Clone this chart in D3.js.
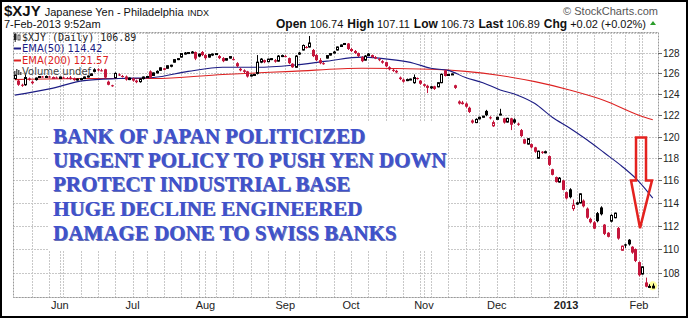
<html>
<script src='https://d3js.org/d3.v7.min.js'></script>
<style>
    body { margin: 0; background: #fff; }
</style>
<body>
<svg width=688 height=318 id="chart" font-family="'Liberation Sans', Arial, sans-serif"></svg>
<script>
// ---- data ----
var holidays = ["2012-05-28","2012-07-04","2012-09-03","2012-10-29","2012-10-30","2012-11-22","2012-12-25","2013-01-01","2013-01-21"];

var opens = [125.5,125.3,124.9,124.9,125.5,125.2,125.4,125.6,125.7,125.65,
125.7,125.6,125.6,125.5,125.6,125.55,125.6,125.5,125.4,125.45,
125.5,125.65,125.8,126.2,126.4,126.3,126.4,125.2,124.85,125.6,
125.9,125.75,125.7,125.4,125.5,125.3,125.2,125.5,125.65,126.2,
125.8,126.05,126.3,126.5,126.5,126.7,127.1,127.35,127.6,127.95,
128.0,128.0,128.1,127.7,128.1,127.8,127.6,127.85,127.85,127.7,
127.5,127.3,127.5,127.4,127.0,126.45,126.3,126.2,125.75,125.85,
126.0,127.1,127.3,127.15,127.4,127.3,127.2,127.7,127.7,127.5,
126.95,126.6,127.9,128.3,128.6,128.6,128.3,127.8,127.3,127.0,
127.5,127.8,128.0,128.3,128.65,128.85,128.95,128.4,128.2,128.0,
127.6,127.3,127.75,127.8,127.6,127.4,127.2,127.1,126.6,126.35,
126.25,125.6,125.4,125.3,125.4,125.1,125.55,125.3,124.95,124.8,
124.6,124.75,124.7,125.1,126.3,125.8,125.9,124.85,123.3,123.2,
123.1,122.7,121.5,121.3,121.65,121.8,122.4,121.8,121.0,121.6,
122.1,121.7,121.35,121.7,121.6,121.2,120.6,119.75,119.3,119.3,
119.0,118.0,118.6,118.5,118.2,117.0,116.3,115.85,116.0,114.95,
115.2,113.5,113.9,114.0,114.2,113.5,112.6,112.3,113.1,113.6,
112.1,111.4,112.4,112.7,111.8,109.9,110.4,110.8,110.2,110.0,
108.9,107.9,107.2,106.85,106.74];

var highs = [125.9,125.4,125.0,125.9,125.6,125.3,125.6,125.75,125.75,125.8,
125.75,125.7,125.7,125.7,125.7,125.65,125.75,125.6,125.5,125.55,
125.7,125.8,126.0,126.5,126.5,126.45,126.45,125.3,124.9,126.1,
126.0,125.85,125.8,125.6,125.6,125.4,125.5,125.7,125.75,126.3,
126.1,126.3,126.6,126.55,126.8,126.85,127.4,127.5,128.0,128.1,
128.1,128.2,128.15,127.95,128.2,127.9,127.9,127.95,128.0,127.8,
127.6,127.5,127.7,127.6,127.1,126.55,126.4,126.25,125.9,125.95,
127.8,127.5,127.35,127.45,127.5,127.4,127.8,127.85,127.8,127.55,
127.0,127.8,128.1,128.85,128.7,129.7,128.4,127.9,127.5,127.1,
127.8,128.0,128.2,128.65,128.85,129.0,129.0,128.5,128.3,128.05,
127.7,127.8,128.0,127.85,127.7,127.5,127.3,127.15,126.7,126.45,
126.35,125.7,125.5,125.5,125.5,125.9,125.6,125.35,125.0,124.9,
124.8,124.8,125.15,126.0,126.35,125.95,126.0,124.9,123.4,123.35,
123.2,122.8,121.6,121.7,121.85,121.95,122.5,121.9,121.5,121.85,
122.6,121.75,121.75,121.75,121.7,121.3,120.7,119.8,119.85,119.35,
119.05,118.7,118.65,118.7,118.25,117.05,116.35,116.3,116.05,115.0,
115.3,114.3,114.1,114.85,114.3,113.6,112.7,112.4,113.2,113.7,
112.15,111.45,113.0,113.15,111.9,110.3,110.45,110.85,110.25,110.05,
108.95,108.55,107.6,107.05,107.11];

var lows = [125.4,124.8,124.7,124.8,125.3,124.95,125.3,125.55,125.6,125.6,
125.6,125.5,125.5,125.45,125.5,125.45,125.4,125.3,125.3,125.35,
125.45,125.6,125.75,126.1,126.2,126.2,125.5,124.85,124.7,125.5,
125.75,125.6,125.3,125.35,125.2,125.05,125.1,125.4,125.55,125.5,
125.75,126.0,126.25,126.3,126.45,126.6,127.05,127.3,127.55,127.85,
127.9,127.95,127.3,127.6,127.7,127.35,127.55,127.7,127.8,127.4,
127.1,127.25,127.45,127.3,126.6,126.2,126.0,125.6,125.7,125.8,
125.9,127.0,127.0,127.1,127.3,127.05,127.15,127.6,127.6,126.9,
126.55,126.55,127.8,128.25,128.45,128.55,127.6,127.2,126.9,126.85,
127.45,127.75,127.95,128.25,128.6,128.8,128.3,128.1,127.9,127.6,
127.1,127.25,127.7,127.5,127.4,127.2,126.95,126.6,126.3,126.15,
126.0,125.35,125.1,125.25,125.35,125.0,125.4,124.9,124.7,124.1,
124.5,124.4,124.65,125.05,125.7,125.75,125.85,124.5,123.0,123.0,
122.7,122.2,121.2,121.25,121.6,121.75,121.9,121.6,120.9,121.55,
122.0,121.2,121.3,120.6,121.2,121.0,119.95,119.3,119.25,118.9,
118.5,117.95,118.4,118.45,117.3,116.45,115.8,115.8,115.1,114.3,
114.4,113.3,113.8,113.95,113.6,112.6,112.2,111.7,112.3,112.9,
111.2,111.0,112.3,112.65,110.8,109.85,110.1,110.3,109.6,108.9,
107.7,107.85,106.8,106.75,106.73];

var closes = [125.8,124.9,124.85,125.6,125.4,125.05,125.55,125.7,125.65,125.7,
125.65,125.6,125.55,125.65,125.55,125.5,125.45,125.35,125.45,125.5,
125.65,125.75,125.95,126.35,126.3,126.25,125.6,124.9,124.8,126.0,
125.85,125.7,125.4,125.55,125.3,125.15,125.45,125.65,125.7,125.6,
126.05,126.2,126.55,126.35,126.75,126.8,127.35,127.45,127.95,128.0,
128.05,128.1,127.45,127.9,127.8,127.5,127.85,127.9,127.95,127.5,
127.2,127.45,127.65,127.35,126.7,126.3,126.15,125.7,125.85,125.9,
127.1,127.4,127.1,127.4,127.45,127.15,127.7,127.75,127.65,127.0,
126.6,127.7,128.0,128.75,128.55,129.0,127.7,127.3,127.0,126.95,
127.75,127.95,128.1,128.6,128.8,128.95,128.4,128.2,128.0,127.7,
127.2,127.7,127.9,127.6,127.45,127.3,127.05,126.7,126.4,126.25,
126.1,125.45,125.2,125.4,125.45,125.6,125.5,125.0,124.8,124.6,
124.7,124.5,125.1,125.9,125.75,125.9,125.95,124.6,123.1,123.05,
122.8,122.3,121.3,121.6,121.8,121.9,122.0,121.7,121.3,121.8,
122.1,121.3,121.7,121.1,121.3,121.1,120.05,119.35,119.8,119.0,
118.6,118.65,118.5,118.6,117.4,116.5,115.85,116.2,115.15,114.4,
114.5,113.8,114.0,114.8,113.7,112.7,112.3,111.75,112.4,113.0,
111.3,111.05,112.9,113.1,110.9,110.25,110.3,110.4,109.7,109.0,
107.8,108.5,106.85,106.87,106.89];

// moving averages, sampled by trading-day index
var emaIdx    = [0,10,20,30,40,50,60,70,80,90,100,105,110,115,120,125,130,135,140,145,150,155,160,165,170,175,180,184];
var ema50     = [123.9,124.5,125.3,125.5,125.6,126.2,126.6,126.6,126.8,127.2,127.6,127.5,127.3,127.0,126.5,126.3,125.6,125.1,124.4,123.9,123.1,121.8,120.8,119.7,118.5,117.3,115.9,114.42];
var ema200Idx = [0,20,40,60,80,100,120,130,140,150,160,170,180,184];
var ema200    = [125.4,125.5,125.5,125.9,126.2,126.5,126.4,126.2,125.8,125.2,124.4,123.4,122.0,121.57];

var yTicks = [108,110,112,114,116,118,120,122,124,126,128];
var yGrid  = [106,108,110,112,114,116,118,120,122,124,126,128,130];

var noteLines = ["BANK OF JAPAN POLITICIZED","URGENT POLICY TO PUSH YEN DOWN","PROTECT INDUSTRIAL BASE","HUGE DECLINE ENGINEERED","DAMAGE DONE TO SWISS BANKS"];

function draw() {
    var fmt = d3.timeFormat("%Y-%m-%d");
    var days = d3.timeDay.range(new Date(2012,4,14), new Date(2013,1,8))
        .filter(function(d){ return d.getDay() % 6 !== 0 && holidays.indexOf(fmt(d)) < 0; });

    var data = days.map(function(d, i) {
        return { i: i, date: d, o: opens[i], h: highs[i], l: lows[i], c: closes[i] };
    });

    var svg = d3.select("svg");
    var pl = 13, pr = 658, pt = 32, pb = 297;

    var x = d3.scaleLinear().domain([-0.5, days.length + 0.5]).range([pl, pr]);
    var y = d3.scaleLog().domain([106, 130.1]).range([pb, pt]);

    // outer frame
    svg.append("rect").attr("x",1).attr("y",1).attr("width",686).attr("height",316)
       .attr("fill","#fff").attr("stroke","#000").attr("stroke-width",2);

    // grid
    var grid = svg.append("g").attr("stroke","#c8c8c8").attr("stroke-width",1).attr("stroke-dasharray","2,1");
    var weekStarts = data.filter(function(d, i) {
        if (i === 0) return false;
        var p = days[i-1];
        return +d3.timeMonday.floor(d.date) !== +d3.timeMonday.floor(p) || d.date.getMonth() !== p.getMonth();
    });
    grid.selectAll(".vg").data(weekStarts).enter().append("line")
        .attr("x1", function(d){ return Math.round(x(d.i)) + 0.5; })
        .attr("x2", function(d){ return Math.round(x(d.i)) + 0.5; })
        .attr("y1", pt).attr("y2", pb);
    grid.selectAll(".hg").data(yGrid).enter().append("line")
        .attr("x1", pl).attr("x2", pr)
        .attr("y1", function(d){ return Math.round(y(d)) + 0.5; })
        .attr("y2", function(d){ return Math.round(y(d)) + 0.5; });

    // plot border
    svg.append("rect").attr("x", pl + 0.5).attr("y", pt + 0.5)
       .attr("width", pr - pl).attr("height", pb - pt)
       .attr("fill","none").attr("stroke","#999").attr("stroke-dasharray","2,1");

    // right axis
    var yAxis = svg.append("g");
    yAxis.selectAll("line").data(yTicks).enter().append("line")
        .attr("x1", pr).attr("x2", pr + 4)
        .attr("y1", function(d){ return Math.round(y(d)) + 0.5; })
        .attr("y2", function(d){ return Math.round(y(d)) + 0.5; })
        .attr("stroke","#666");
    yAxis.selectAll("text").data(yTicks).enter().append("text")
        .attr("x", pr + 5).attr("y", function(d){ return y(d) + 4; })
        .attr("font-size", 10).attr("fill","#222").text(function(d){ return d; });

    // month labels
    var monthStarts = data.filter(function(d, i){ return i > 0 && d.date.getMonth() !== days[i-1].getMonth(); });
    svg.selectAll(".ml").data(monthStarts).enter().append("text")
        .attr("x", function(d){ return x(d.i); }).attr("y", 309)
        .attr("text-anchor","middle").attr("font-size", 11)
        .attr("font-weight", function(d){ return d.date.getMonth() === 0 ? "bold" : "normal"; })
        .attr("fill","#222")
        .text(function(d){ return d.date.getMonth() === 0 ? d.date.getFullYear() : d3.timeFormat("%b")(d.date); });

    // white box behind the note
    svg.append("rect").attr("x",48).attr("y",122).attr("width",399).attr("height",128).attr("fill","#fff");

    // EMAs
    var line = d3.line().curve(d3.curveMonotoneX)
        .x(function(d){ return x(d[0]); }).y(function(d){ return y(d[1]); });
    svg.append("path").datum(ema200Idx.map(function(v, k){ return [v, ema200[k]]; }))
        .attr("d", line).attr("fill","none").attr("stroke","#dd2222").attr("stroke-width",1.1);
    svg.append("path").datum(emaIdx.map(function(v, k){ return [v, ema50[k]]; }))
        .attr("d", line).attr("fill","none").attr("stroke","#1c1c84").attr("stroke-width",1.1);

    // highlight on last bar
    var last = data[data.length - 1];
    svg.append("circle").attr("cx", x(last.i)).attr("cy", y((last.h + last.l) / 2))
       .attr("r", 4.5).attr("fill","#ffff99");

    // candles
    var red = "#c4163c";
    var candles = svg.append("g").selectAll("g").data(data).enter().append("g");
    candles.each(function(d, i) {
        var g = d3.select(this);
        var prev = i > 0 ? closes[i-1] : d.o;
        var col = d.c >= prev ? "#000" : red;
        var cx = Math.round(x(d.i));
        g.append("line").attr("x1", cx + 0.5).attr("x2", cx + 0.5)
            .attr("y1", y(d.h)).attr("y2", y(d.l)).attr("stroke", col);
        var yt = y(Math.max(d.o, d.c)), yb = y(Math.min(d.o, d.c));
        if (d.c < d.o) {
            g.append("rect").attr("x", cx - 1).attr("y", yt)
                .attr("width", 3).attr("height", Math.max(1, yb - yt)).attr("fill", col);
        } else {
            g.append("rect").attr("x", cx - 0.5).attr("y", yt)
                .attr("width", 2).attr("height", Math.max(1, yb - yt))
                .attr("fill","#fff").attr("stroke", col).attr("stroke-width", 1);
        }
    });

    // note text
    var note = svg.append("g").attr("font-family","'Liberation Serif', 'Times New Roman', serif")
        .attr("font-weight","bold").attr("font-size", 21);
    noteLines.forEach(function(t, k) {
        note.append("text").attr("x", 53.8).attr("y", 143.8 + k * 24.2).attr("fill","#25329a").attr("opacity",0.7).text(t);
        note.append("text").attr("x", 53).attr("y", 143 + k * 24.2).attr("fill","#3f52cc").text(t);
    });

    // red arrow (annotation)
    var ax = x(180.6), aTop = y(119.9), aNeck = y(116.0), aTip = y(111.8);
    svg.append("path")
       .attr("d", "M" + (ax-5) + "," + aTop + "L" + (ax+5) + "," + aTop + "L" + (ax+5) + "," + aNeck +
                  "L" + (ax+11) + "," + aNeck + "L" + (ax-1) + "," + aTip + "L" + (ax-10) + "," + aNeck +
                  "L" + (ax-5) + "," + aNeck + "Z")
       .attr("fill","none").attr("stroke","#e4221f").attr("stroke-width",2.5).attr("stroke-linejoin","miter");

    // legend
    var lg = svg.append("g").attr("font-family","'DejaVu Sans', Verdana, sans-serif").attr("font-size",10);
    lg.append("rect").attr("x",14).attr("y",34).attr("width",2.5).attr("height",6).attr("fill","#222");
    lg.append("line").attr("x1",15.2).attr("x2",15.2).attr("y1",33).attr("y2",42).attr("stroke","#222");
    lg.append("rect").attr("x",18).attr("y",35).attr("width",2).attr("height",5).attr("fill","none").attr("stroke","#222").attr("stroke-width",0.8);
    lg.append("text").attr("x",22).attr("y",41).attr("fill","#222")
        .attr("font-family","'DejaVu Sans Mono', monospace").attr("font-size",10).text("$XJY (Daily) 106.89");
    lg.append("line").attr("x1",14).attr("x2",21).attr("y1",48.5).attr("y2",48.5).attr("stroke","#1c1c84").attr("stroke-width",2);
    lg.append("text").attr("x",22).attr("y",52).attr("fill","#1c1c84").text("EMA(50) 114.42");
    lg.append("line").attr("x1",14).attr("x2",21).attr("y1",60.5).attr("y2",60.5).attr("stroke","#dd2222").attr("stroke-width",2);
    lg.append("text").attr("x",22).attr("y",63.5).attr("fill","#dd2222").text("EMA(200) 121.57");
    [[14,4],[16,6],[18,5],[20,3]].forEach(function(b){
        lg.append("rect").attr("x",b[0]).attr("y",75 - b[1]).attr("width",1.5).attr("height",b[1]).attr("fill","#555");
    });
    lg.append("text").attr("x",22).attr("y",75).attr("fill","#444").text("Volume undef");

    // header
    var hd = svg.append("g").attr("fill","#111");
    var t1 = hd.append("text").attr("x",4).attr("y",16);
    t1.append("tspan").attr("font-size",15).attr("font-weight","bold").text("$XJY");
    t1.append("tspan").attr("font-size",11).attr("dx",4).text("Japanese Yen - Philadelphia");
    t1.append("tspan").attr("font-size",9).attr("dx",4).text("INDX");
    hd.append("text").attr("x",4).attr("y",28).attr("font-size",11).text("7-Feb-2013 9:52am");
    var t2 = hd.append("text").attr("x",646).attr("y",28).attr("font-size",11).attr("text-anchor","end");
    [["Open","106.74"],["High","107.11"],["Low","106.73"],["Last","106.89"],["Chg","+0.02 (+0.02%)"]].forEach(function(p, k){
        t2.append("tspan").attr("font-weight","bold").attr("font-size",12).attr("dx", k ? 4 : 0).text(p[0]);
        t2.append("tspan").attr("dx",3).text(p[1]);
    });
    hd.append("path").attr("d","M650,25 L656,25 L653,21 Z").attr("fill","#2a9d2a");
    hd.append("text").attr("x",658).attr("y",15).attr("text-anchor","end").attr("font-size",11).attr("fill","#555").text("\u00A9 StockCharts.com");
}
draw();
</script>
</body>
</html>
